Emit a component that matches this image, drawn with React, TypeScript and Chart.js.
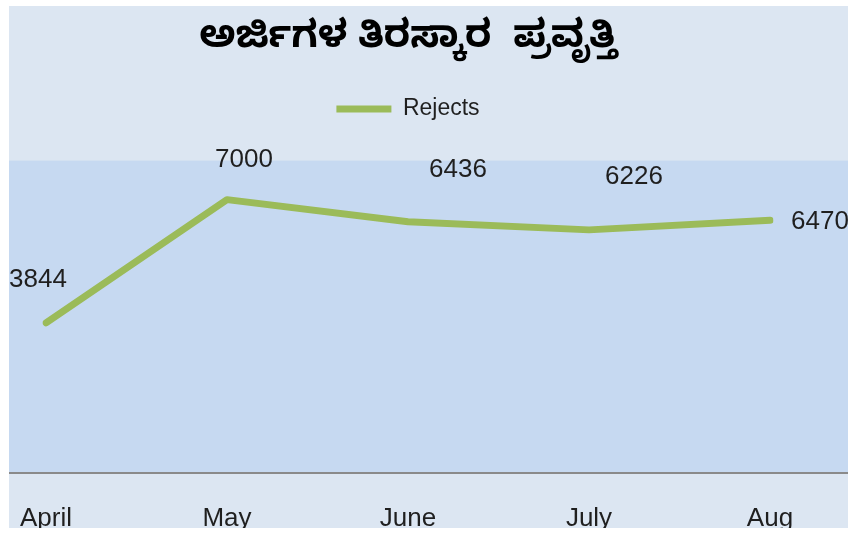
import React, { useEffect, useRef } from "react";
import { Chart, registerables } from "chart.js";

Chart.register(...registerables);

const titleText = "ಅರ್ಜಿಗಳ ತಿರಸ್ಕಾರ  ಪ್ರವೃತ್ತಿ";
const seriesName = "Rejects";
const months = ["April", "May", "June", "July", "Aug"];
const rejects = [3844, 7000, 6436, 6226, 6470];
const yMin = 0;
const yMax = 8000;

// label placement (style only), relative to each point
const labelDx = [-8, 17, 50, 45, 50];
const labelDy = [-43, -40, -52, -53, 1];

const OUTER_BG = "#dce6f2";
const PLOT_BG = "#c6d9f1";
const LINE = "#9bbb59";
const TEXT = "#1f1f1f";
const FONT = "'Liberation Sans', Arial, sans-serif";
const LEGEND_EXTRA = 30;

const bgPlugin = {
  id: "bgPlugin",
  afterInit(chart: any) {
    const legend = chart.legend;
    if (legend && !legend.__patched) {
      const fit = legend.fit;
      legend.fit = function () {
        fit.call(this);
        this.height += LEGEND_EXTRA;
      };
      legend.__patched = true;
    }
  },
  beforeDraw(chart: any) {
    const { ctx, width, height, scales } = chart;
    ctx.save();
    ctx.fillStyle = OUTER_BG;
    ctx.fillRect(0, 0, width, height);
    const yTop = scales.y.getPixelForValue(yMax);
    const yBot = scales.y.getPixelForValue(yMin);
    ctx.fillStyle = PLOT_BG;
    ctx.fillRect(0, yTop, width, yBot - yTop);
    ctx.strokeStyle = "#8a8a8a";
    ctx.lineWidth = 2;
    ctx.beginPath();
    ctx.moveTo(0, yBot);
    ctx.lineTo(width, yBot);
    ctx.stroke();
    ctx.restore();
  },
};

const labelPlugin = {
  id: "labelPlugin",
  afterDatasetsDraw(chart: any) {
    const { ctx } = chart;
    const meta = chart.getDatasetMeta(0);
    ctx.save();
    ctx.font = `26px ${FONT}`;
    ctx.fillStyle = TEXT;
    ctx.textAlign = "center";
    ctx.textBaseline = "middle";
    meta.data.forEach((pt: any, i: number) => {
      ctx.fillText(String(rejects[i]), pt.x + labelDx[i], pt.y + labelDy[i]);
    });
    ctx.restore();
  },
};

export default function App() {
  const ref = useRef<HTMLCanvasElement | null>(null);
  useEffect(() => {
    if (!ref.current) return;
    const chart = new Chart(ref.current, {
      type: "line",
      data: {
        labels: months,
        datasets: [
          {
            label: seriesName,
            data: rejects,
            borderColor: LINE,
            backgroundColor: LINE,
            borderWidth: 7,
            borderCapStyle: "round",
            borderJoinStyle: "round",
            tension: 0,
            pointRadius: 0,
            pointHoverRadius: 0,
            pointStyle: "line",
          },
        ],
      },
      options: {
        animation: false,
        responsive: false,
        maintainAspectRatio: false,
        layout: { padding: { left: 37, right: 78, top: 0, bottom: 0 } },
        plugins: {
          title: {
            display: true,
            text: titleText,
            color: "#000",
            font: { size: 38, weight: "bold", family: "'Noto Sans Kannada', 'Noto Sans', sans-serif" },
            padding: { top: 14, bottom: 18 },
          },
          legend: {
            display: true,
            position: "top",
            labels: {
              usePointStyle: true,
              pointStyleWidth: 55,
              color: TEXT,
              font: { size: 23, family: FONT },
              padding: 14,
            },
          },
          tooltip: { enabled: false },
        },
        scales: {
          x: {
            type: "category",
            offset: false,
            grid: { display: false },
            border: { display: false },
            ticks: {
              color: TEXT,
              font: { size: 26, family: FONT, lineHeight: 1 },
              padding: 25,
              maxRotation: 0,
              autoSkip: false,
            },
            afterFit(scale: any) {
              scale.height = 55;
              scale.paddingLeft = 0;
              scale.paddingRight = 0;
            },
          },
          y: {
            display: false,
            min: yMin,
            max: yMax,
          },
        },
      },
      plugins: [bgPlugin, labelPlugin],
    });
    return () => chart.destroy();
  }, []);
  return (
    <div style={{ position: "absolute", left: 9, top: 6, width: 839, height: 522 }}>
      <canvas ref={ref} width={839} height={522} style={{ display: "block" }} />
    </div>
  );
}
